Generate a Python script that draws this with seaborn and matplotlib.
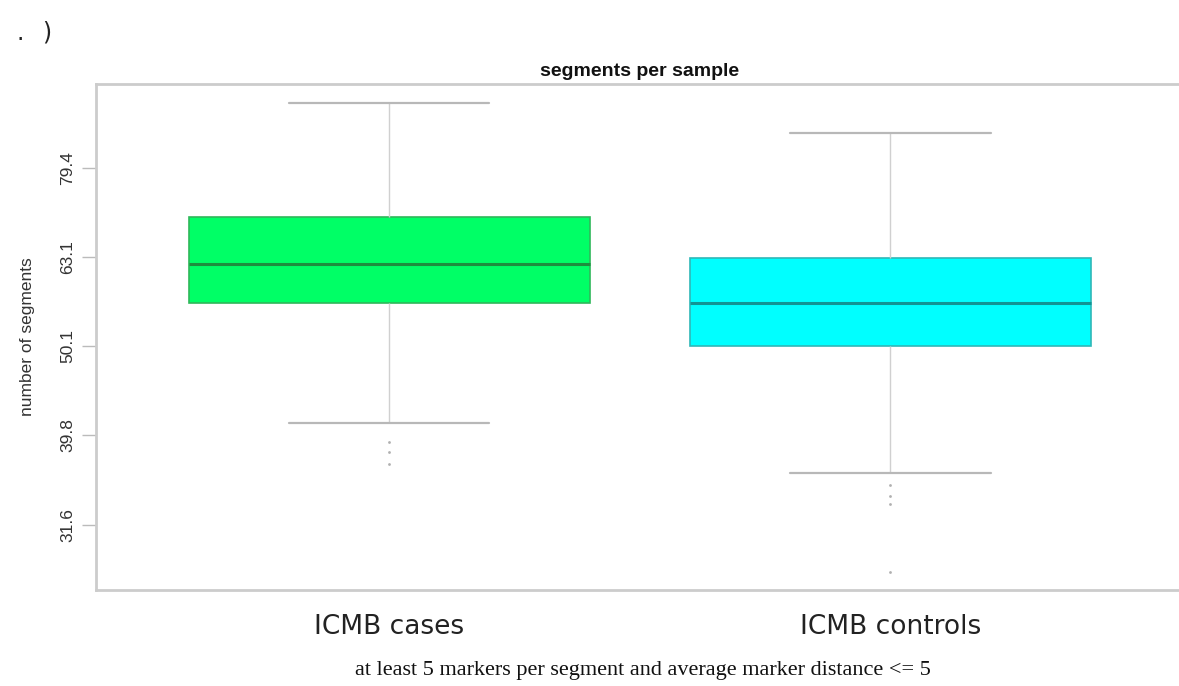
import matplotlib
matplotlib.use("Agg")
import matplotlib.pyplot as plt
import seaborn as sns
import pandas as pd

# Segment counts per sample, sorted, for each group
groups = ["ICMB cases", "ICMB controls"]
cases_segments = [37.0, 38.1, 39.1, 41.1, 56.1, 58.0, 60.0, 61.0, 62.0,
                  64.0, 66.0, 68.0, 70.05, 75.0, 80.0, 88.0, 94.0]
controls_segments = [28.0, 33.3, 34.0, 35.0, 36.1, 50.1, 51.0, 52.0, 53.5,
                     55.0, 56.1, 57.0, 58.5, 60.0, 61.5, 63.0, 66.0, 70.0,
                     75.0, 81.0, 87.0]
ytick_values = [31.6, 39.8, 50.1, 63.1, 79.4]
ytick_labels = ["31.6", "39.8", "50.1", "63.1", "79.4"]

fill_colors = ["#00FF66", "#00FFFF"]
edge_colors = ["#2FB85A", "#2FB8B8"]
median_colors = ["#1E8E3E", "#129494"]

df = pd.DataFrame({
    "group": [groups[0]] * len(cases_segments) + [groups[1]] * len(controls_segments),
    "segments": cases_segments + controls_segments,
})

sns.set_style("white")
plt.rcParams["font.family"] = ["Liberation Sans", "DejaVu Sans"]

fig = plt.figure(figsize=(11.79, 6.86), dpi=100)
ax = fig.add_axes([0.0814, 0.14, 0.9226, 0.7376])

sns.boxplot(
    data=df, x="group", y="segments", hue="group", palette=fill_colors,
    order=groups, hue_order=groups, log_scale=True, width=0.8, whis=1.5,
    legend=False, ax=ax, saturation=1,
    whiskerprops=dict(color="#D0D0D0", linewidth=1.0),
    capprops=dict(color="#B8B8B8", linewidth=1.6),
    flierprops=dict(marker="o", markersize=2.0, markerfacecolor="#B0B0B0",
                    markeredgecolor="none"),
    medianprops=dict(linewidth=2.2),
)

for i, cont in enumerate(ax.containers):
    for b in cont.boxes:
        b.set_edgecolor(edge_colors[i])
        b.set_linewidth(1.2)
    for m in cont.medians:
        m.set_color(median_colors[i])

ax.set_ylim(26.7, 98.7)
ax.set_xlim(-0.585, 1.585)
ax.minorticks_off()
ax.set_yticks(ytick_values)
ax.set_yticklabels(ytick_labels, rotation=90, va="center", fontsize=12.5, color="#333333")
ax.tick_params(axis="y", which="major", left=True, length=10, width=1,
               color="#BBBBBB", pad=5)
ax.tick_params(axis="x", bottom=False, labelsize=19, pad=14)
for lbl in ax.get_xticklabels():
    lbl.set_fontfamily("DejaVu Sans")
    lbl.set_color("#222222")

ax.set_xlabel("")
ax.set_ylabel("number of segments", fontsize=12.5, color="#333333", labelpad=18)

for side in ["left", "top", "bottom"]:
    ax.spines[side].set_color("#CCCCCC")
    ax.spines[side].set_linewidth(2)
ax.spines["right"].set_visible(False)

ax.set_title("segments per sample", fontsize=14, fontweight="bold",
             color="#111111", pad=6)

fig.text(0.545, 0.022, "at least 5 markers per segment and average marker distance <= 5",
         ha="center", va="center", fontsize=16, family="Liberation Serif", color="#111111")
fig.text(0.014, 0.935, ".", ha="left", va="bottom", fontsize=17,
         family="DejaVu Sans", color="#222222")
fig.text(0.036, 0.935, ")", ha="left", va="bottom", fontsize=17,
         family="DejaVu Sans", color="#222222")

fig.savefig("out.png", dpi=100)
